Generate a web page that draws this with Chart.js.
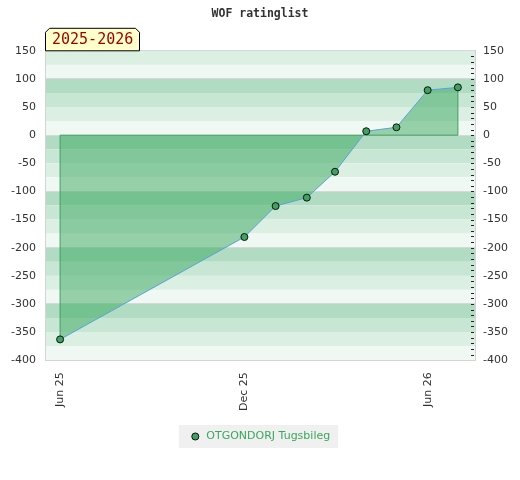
<!DOCTYPE html>
<html>
<head>
<meta charset="utf-8">
<script src="https://cdn.jsdelivr.net/npm/chart.js@4.4.1/dist/chart.umd.min.js"></script>
<style>
  html, body { margin: 0; padding: 0; background: #fff; }
</style>
</head>
<body>
<canvas id="ratingChart" width="520" height="480"></canvas>
<script>
const months = ['2025-06', '2025-12', '2026-01', '2026-02', '2026-03', '2026-04', '2026-05', '2026-06', '2026-07'];
const ratings = [-363, -181, -126, -111, -65, 7, 14, 80, 85];
const tickMonths = ['2025-06', '2025-12', '2026-06'];
const tickLabels = ['Jun 25', 'Dec 25', 'Jun 26'];
const playerName = 'OTGONDORJ Tugsbileg';
const seasonLabel = '2025-2026';
const chartTitle = 'WOF ratinglist';

function dayNumber(s) {
    const p = s.split('-').map(Number);
    return Date.UTC(p[0], p[1] - 1, p[2] || 1) / 86400000;
}

// band colours keyed by (top value mod 100)
const bandColors = { 0: '#b1dcc3', 75: '#c8e6d4', 50: '#dcefe3', 25: '#f0f8f3' };

const backgroundPlugin = {
    id: 'background',
    beforeDraw(chart) {
        const ctx = chart.ctx;
        const y = chart.scales.y;
        const { left, right } = chart.chartArea;
        ctx.save();
        for (let v = y.max; v > y.min; v -= 25) {
            const k = ((v % 100) + 100) % 100;
            const top = y.getPixelForValue(v);
            const bottom = y.getPixelForValue(v - 25);
            ctx.fillStyle = bandColors[k];
            ctx.fillRect(left, top, right - left, bottom - top);
        }
        // legend background
        const box = chart.legend.legendHitBoxes[0];
        if (box) {
            ctx.fillStyle = '#f0f0f0';
            ctx.fillRect(box.left - 11, box.top - 6, box.width + 19, box.height + 12);
        }
        ctx.restore();
    },
    beforeDatasetDraw(chart, args) {
        const ctx = chart.ctx;
        const pts = args.meta.data;
        const y0 = chart.scales.y.getPixelForValue(0);
        const first = pts[0], last = pts[pts.length - 1];
        ctx.save();
        ctx.strokeStyle = '#3d9c5e';
        ctx.lineWidth = 1;
        ctx.beginPath();
        ctx.moveTo(first.x, first.y);
        ctx.lineTo(first.x, y0);
        ctx.lineTo(last.x, y0);
        ctx.lineTo(last.x, last.y);
        ctx.stroke();
        ctx.restore();
    },
    afterDraw(chart) {
        const ctx = chart.ctx;
        const y2 = chart.scales.y2;
        const { left, right, top } = chart.chartArea;
        ctx.save();
        // minor ticks on the right axis
        ctx.strokeStyle = '#222';
        ctx.lineWidth = 1;
        ctx.beginPath();
        for (let v = y2.min + 10; v < y2.max; v += 10) {
            const py = Math.round(y2.getPixelForValue(v)) + 0.5;
            ctx.moveTo(right - 4, py);
            ctx.lineTo(right - 1, py);
        }
        ctx.stroke();
        // season label box
        const bx = left, bw = 95, bh = 23, by = top - bh, c = 4;
        ctx.beginPath();
        ctx.moveTo(bx + 0.5, top);
        ctx.lineTo(bx + 0.5, by + c + 0.5);
        ctx.lineTo(bx + c + 0.5, by + 0.5);
        ctx.lineTo(bx + bw - c - 0.5, by + 0.5);
        ctx.lineTo(bx + bw - 0.5, by + c + 0.5);
        ctx.lineTo(bx + bw - 0.5, top);
        ctx.closePath();
        ctx.fillStyle = '#ffffcc';
        ctx.fill();
        ctx.strokeStyle = '#000';
        ctx.stroke();
        ctx.fillStyle = '#990000';
        ctx.font = '15px "DejaVu Sans Mono"';
        ctx.textBaseline = 'middle';
        ctx.textAlign = 'left';
        ctx.fillText(seasonLabel, bx + 7, by + bh / 2 + 1);
        ctx.restore();
    }
};

const ctxRating = document.getElementById('ratingChart').getContext('2d');
const axisFont = { family: '"DejaVu Sans"', size: 11 };

new Chart(ctxRating, {
    type: 'line',
    data: {
        datasets: [{
            label: playerName,
            data: months.map((m, i) => ({ x: dayNumber(m), y: ratings[i] })),
            borderColor: '#5aa2dc',
            borderWidth: 1,
            backgroundColor: 'rgba(58, 168, 96, 0.5)',
            fill: 'origin',
            tension: 0,
            pointRadius: 3.5,
            pointBackgroundColor: '#3ea35f',
            pointBorderColor: '#111',
            pointBorderWidth: 1
        }]
    },
    options: {
        responsive: false,
        animation: false,
        layout: { padding: { bottom: 28 } },
        scales: {
            x: {
                type: 'linear',
                min: dayNumber('2025-05-17'),
                max: dayNumber('2026-07-18'),
                afterBuildTicks: (scale) => {
                    scale.ticks = tickMonths.map(m => ({ value: dayNumber(m) }));
                },
                afterFit: (scale) => { scale.height -= 2; },
                ticks: {
                    callback: (value) => tickLabels[tickMonths.findIndex(m => dayNumber(m) === value)],
                    minRotation: 90,
                    maxRotation: 90,
                    autoSkip: false,
                    padding: 12,
                    color: '#333',
                    font: axisFont
                },
                grid: { display: false, drawTicks: false },
                border: { color: '#d4d4d4' }
            },
            y: {
                position: 'left',
                min: -400,
                max: 150,
                ticks: { stepSize: 50, padding: 9, color: '#333', font: axisFont },
                grid: {
                    drawTicks: false,
                    color: (c) => (c.tick.value % 100 === 0 || c.tick.value === 150) ? '#d8d8d8' : 'rgba(0,0,0,0)'
                },
                border: { color: '#d4d4d4' },
                afterFit: (scale) => { scale.width = 45; }
            },
            y2: {
                position: 'right',
                min: -400,
                max: 150,
                ticks: { stepSize: 50, padding: 8, color: '#333', font: axisFont },
                grid: { display: false, drawTicks: false },
                border: { color: '#d4d4d4' },
                afterFit: (scale) => { scale.width = 45; }
            }
        },
        plugins: {
            title: {
                display: true,
                text: chartTitle,
                color: '#333',
                font: { family: '"DejaVu Sans Mono"', weight: 'bold', size: 11.5 },
                padding: { top: 7, bottom: 30 }
            },
            legend: {
                display: true,
                position: 'bottom',
                labels: {
                    usePointStyle: true,
                    boxHeight: 5,
                    boxWidth: 11,
                    color: '#3aa85c',
                    font: axisFont,
                    padding: 10
                }
            },
            tooltip: { enabled: false }
        }
    },
    plugins: [backgroundPlugin]
});
</script>
</body>
</html>
